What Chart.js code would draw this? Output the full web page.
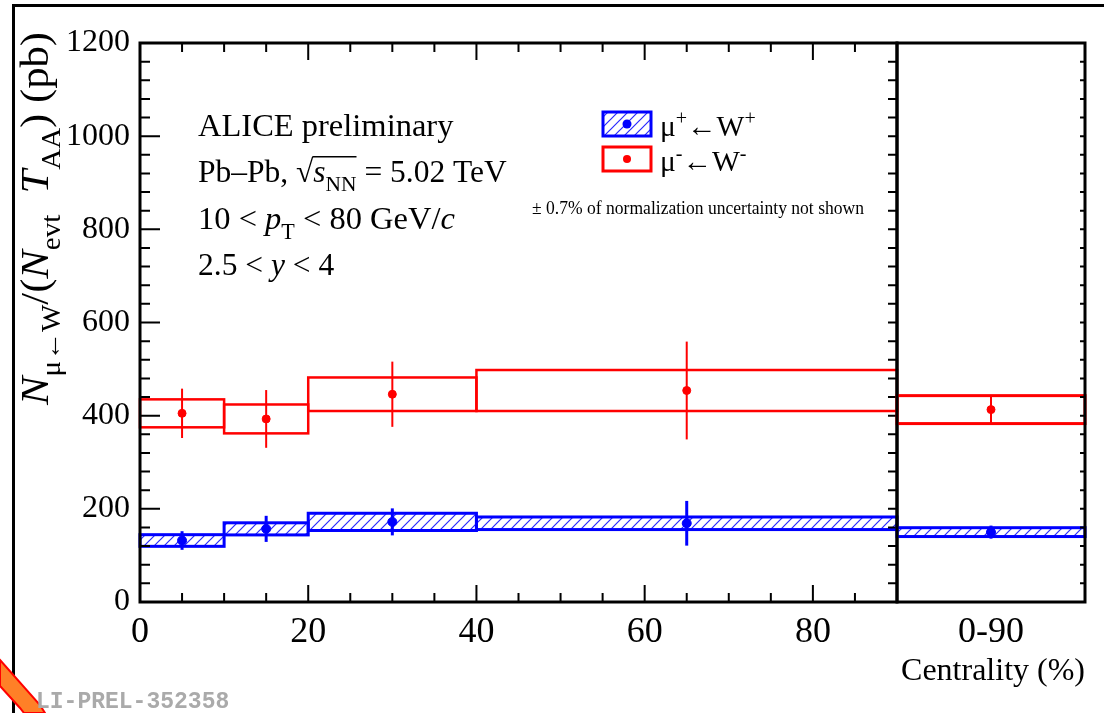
<!DOCTYPE html>
<html>
<head>
<meta charset="utf-8">
<script src="https://cdn.jsdelivr.net/npm/chart.js@4.4.1/dist/chart.umd.min.js"></script>
<style>
  body { margin: 0; background: #fff; }
  #wrap { position: relative; width: 1104px; height: 713px; overflow: hidden; }
  #wrap canvas { position: absolute; left: 0; top: 0; }
  #frame { position: absolute; left: 12px; top: 4px; width: 1200px; height: 800px;
           border-left: 3px solid #000; border-top: 3px solid #000; }
</style>
</head>
<body>
<div id="wrap">
  <div id="frame"></div>
  <canvas id="main" width="1104" height="713"></canvas>
  <canvas id="side" width="1104" height="713"></canvas>
</div>
<script>
'use strict';
// centrality bins (%)
let binLow = [0, 10, 20, 40];
let binHigh = [10, 20, 40, 90];
let binMid = [5, 15, 30, 65];

// mu+ <- W+
let plusVal = [132, 157, 172, 169];
let plusStat = [20, 28, 29, 48];
let plusSyst = [12.5, 13, 18.5, 13.5];

// mu- <- W-
let minusVal = [405, 393, 446, 454];
let minusStat = [53, 62, 70, 105];
let minusSyst = [30, 31, 36, 44];

// integrated 0-90
let intLow = [0];
let intHigh = [90];
let intMid = [45];
let intPlusVal = [150];
let intPlusStat = [14];
let intPlusSyst = [9.5];
let intMinusVal = [413];
let intMinusStat = [29];
let intMinusSyst = [30];

let yMin = 0, yMax = 1200, yStep = 40, yMajor = 200;
let xMin = 0, xMax = 90, xStep = 5, xMajor = 20;

const SERIF = '"Liberation Serif", "Times New Roman", serif';
const BLUE = '#0000ff';
const RED = '#ff0000';

// hatch tile for the mu+ boxes
let pc = document.createElement('canvas');
pc.width = 10; pc.height = 10;
let g = pc.getContext('2d');
g.strokeStyle = '#2a2aff';
g.lineWidth = 1.2;
g.beginPath();
g.moveTo(0, 10); g.lineTo(10, 0);
g.moveTo(-1, 1); g.lineTo(1, -1);
g.moveTo(9, 11); g.lineTo(11, 9);
g.stroke();

function richText(ctx, x, y, parts, size, draw) {
    let cx = x;
    let barStart = null, barEnd = null;
    for (let p of parts) {
        let s = (p.sub || p.sup) ? size * 0.68 : size;
        ctx.font = (p.i ? 'italic ' : '') + s + 'px ' + SERIF;
        let dy = p.sub ? size * 0.3 : (p.sup ? -size * 0.38 : 0);
        let w = ctx.measureText(p.t).width;
        if (draw) ctx.fillText(p.t, cx, y + dy);
        if (p.bar) {
            if (barStart === null) barStart = cx;
            barEnd = cx + w;
        }
        cx += w;
    }
    if (draw && barStart !== null) {
        ctx.save();
        ctx.lineWidth = 1.5;
        ctx.beginPath();
        ctx.moveTo(barStart - 1, y - size * 0.8);
        ctx.lineTo(barEnd, y - size * 0.8);
        ctx.stroke();
        ctx.restore();
    }
    return cx - x;
}

function makeBoxPlugin(sets) {
    return {
        id: 'boxes',
        beforeDatasetsDraw(chart) {
            let ctx = chart.ctx;
            let xs = chart.scales.x;
            let ys = chart.scales.y;
            let pat = ctx.createPattern(pc, 'repeat');
            for (let s of sets) {
                for (let i = 0; i < s.val.length; i++) {
                    let x0 = xs.getPixelForValue(s.lo[i]);
                    let x1 = xs.getPixelForValue(s.hi[i]);
                    let yt = ys.getPixelForValue(s.val[i] + s.syst[i]);
                    let yb = ys.getPixelForValue(s.val[i] - s.syst[i]);
                    ctx.save();
                    if (s.hatch) {
                        ctx.fillStyle = pat;
                        ctx.fillRect(x0, yt, x1 - x0, yb - yt);
                    }
                    ctx.strokeStyle = s.color;
                    ctx.lineWidth = s.boxWidth;
                    ctx.strokeRect(x0, yt, x1 - x0, yb - yt);
                    let xm = xs.getPixelForValue(s.mid[i]);
                    ctx.lineWidth = s.barWidth;
                    ctx.beginPath();
                    ctx.moveTo(xm, ys.getPixelForValue(s.val[i] - s.stat[i]));
                    ctx.lineTo(xm, ys.getPixelForValue(s.val[i] + s.stat[i]));
                    ctx.stroke();
                    ctx.restore();
                }
            }
        }
    };
}

let mainDecor = {
    id: 'mainDecor',
    afterDraw(chart) {
        let ctx = chart.ctx;
        let a = chart.chartArea;
        let xs = chart.scales.x;
        let ys = chart.scales.y;
        ctx.save();
        ctx.strokeStyle = '#000';
        ctx.lineWidth = 2;
        ctx.beginPath();
        for (let v = yMin; v <= yMax; v += yStep) {
            let y = ys.getPixelForValue(v);
            let len = v % yMajor === 0 ? 20 : 10;
            ctx.moveTo(a.left, y); ctx.lineTo(a.left + len, y);
            ctx.moveTo(a.right, y); ctx.lineTo(a.right - 9, y);
        }
        for (let v = xMin; v <= xMax; v += xStep) {
            let x = xs.getPixelForValue(v);
            let len = v % xMajor === 0 ? 17 : 9;
            ctx.moveTo(x, a.bottom); ctx.lineTo(x, a.bottom - len);
            ctx.moveTo(x, a.top); ctx.lineTo(x, a.top + len);
        }
        ctx.stroke();
        ctx.lineWidth = 3;
        ctx.strokeRect(a.left, a.top, a.right - a.left, a.bottom - a.top);

        // y axis title
        ctx.fillStyle = '#000';
        ctx.textBaseline = 'alphabetic';
        ctx.textAlign = 'left';
        let titleParts = [
            {t: 'N', i: 1}, {t: 'μ←W', sub: 1}, {t: '/('}, {t: 'N', i: 1}, {t: 'evt', sub: 1},
            {t: '  '}, {t: 'T', i: 1}, {t: 'AA', sub: 1}, {t: ') (pb)'}
        ];
        let tw = richText(ctx, 0, 0, titleParts, 40, false);
        ctx.save();
        ctx.translate(48, 405);
        ctx.rotate(-Math.PI / 2);
        ctx.scale(373 / tw, 1);
        richText(ctx, 0, 0, titleParts, 40, true);
        ctx.restore();

        // annotations
        richText(ctx, 198, 136, [{t: 'ALICE preliminary'}], 32.5, true);
        richText(ctx, 198, 182, [{t: 'Pb–Pb, '}, {t: '√'}, {t: 's', i: 1, bar: 1}, {t: 'NN', sub: 1, bar: 1}, {t: ' = 5.02 TeV'}], 31.5, true);
        richText(ctx, 198, 229, [{t: '10 < '}, {t: 'p', i: 1}, {t: 'T', sub: 1}, {t: ' < 80 GeV/'}, {t: 'c', i: 1}], 32.5, true);
        richText(ctx, 198, 275, [{t: '2.5 < '}, {t: 'y', i: 1}, {t: ' < 4'}], 31.5, true);

        ctx.font = '18px ' + SERIF;
        ctx.textAlign = 'center';
        ctx.fillText('± 0.7% of normalization uncertainty not shown', 698, 214, 332);
        ctx.textAlign = 'left';

        // legend
        ctx.fillStyle = ctx.createPattern(pc, 'repeat');
        ctx.fillRect(603, 112, 48, 24);
        ctx.lineWidth = 3;
        ctx.strokeStyle = BLUE;
        ctx.strokeRect(603, 112, 48, 24);
        ctx.fillStyle = BLUE;
        ctx.beginPath(); ctx.arc(627, 124, 4.5, 0, Math.PI * 2); ctx.fill();
        ctx.strokeStyle = RED;
        ctx.strokeRect(603, 147, 48, 24);
        ctx.fillStyle = RED;
        ctx.beginPath(); ctx.arc(627, 159, 4, 0, Math.PI * 2); ctx.fill();
        ctx.fillStyle = '#000';
        richText(ctx, 660, 136, [{t: 'μ'}, {t: '+', sup: 1}, {t: '←W'}, {t: '+', sup: 1}], 29.5, true);
        richText(ctx, 660, 171, [{t: 'μ'}, {t: '-', sup: 1}, {t: '←W'}, {t: '-', sup: 1}], 29.5, true);

        // logo corner + preliminary id
        ctx.fillStyle = '#ff8027';
        ctx.strokeStyle = RED;
        ctx.lineWidth = 2;
        ctx.beginPath();
        ctx.moveTo(0, 660); ctx.lineTo(40, 705); ctx.lineTo(45, 713);
        ctx.lineTo(24, 713); ctx.lineTo(20, 708); ctx.lineTo(0, 686);
        ctx.closePath();
        ctx.fill(); ctx.stroke();
        ctx.fillStyle = '#aaaaaa';
        ctx.font = 'bold 23px "Liberation Mono", monospace';
        ctx.fillText('LI-PREL-352358', 36, 708);
        ctx.restore();
    }
};

let sideDecor = {
    id: 'sideDecor',
    afterDraw(chart) {
        let ctx = chart.ctx;
        let a = chart.chartArea;
        let ys = chart.scales.y;
        ctx.save();
        ctx.strokeStyle = '#000';
        ctx.lineWidth = 2;
        ctx.beginPath();
        for (let v = yMin; v <= yMax; v += yStep) {
            let y = ys.getPixelForValue(v);
            ctx.moveTo(a.right, y); ctx.lineTo(a.right - 5, y);
        }
        ctx.stroke();
        ctx.lineWidth = 3;
        ctx.strokeRect(a.left, a.top, a.right - a.left, a.bottom - a.top);
        ctx.restore();
    }
};

function pts(xv, yv) {
    return xv.map((x, i) => ({x: x, y: yv[i]}));
}

let mainChart = new Chart(document.getElementById('main').getContext('2d'), {
    type: 'scatter',
    data: {
        datasets: [{
            label: 'μ+←W+',
            data: pts(binMid, plusVal),
            backgroundColor: BLUE,
            borderColor: BLUE,
            pointRadius: 4.5
        }, {
            label: 'μ-←W-',
            data: pts(binMid, minusVal),
            backgroundColor: RED,
            borderColor: RED,
            pointRadius: 4
        }]
    },
    options: {
        responsive: false,
        animation: false,
        events: [],
        layout: { padding: { top: 43, right: 207, left: 0, bottom: 0 } },
        plugins: { legend: { display: false }, tooltip: { enabled: false } },
        scales: {
            x: {
                type: 'linear', min: xMin, max: xMax,
                grid: { display: false, drawTicks: false },
                border: { display: false },
                ticks: {
                    stepSize: xStep, autoSkip: false, maxRotation: 0, padding: 9,
                    color: '#000', font: { family: SERIF, size: 36 },
                    callback: v => (v % xMajor === 0 ? v : '')
                },
                afterFit: s => { s.height = 111; }
            },
            y: {
                min: yMin, max: yMax,
                grid: { display: false, drawTicks: false },
                border: { display: false },
                ticks: {
                    stepSize: yStep, autoSkip: false, padding: 10,
                    color: '#000', font: { family: SERIF, size: 32 },
                    callback: v => (v % yMajor === 0 ? v : '')
                },
                afterFit: s => { s.width = 140; }
            }
        }
    },
    plugins: [makeBoxPlugin([
        {lo: binLow, hi: binHigh, mid: binMid, val: minusVal, stat: minusStat, syst: minusSyst, color: RED, boxWidth: 2.5, barWidth: 2, hatch: false},
        {lo: binLow, hi: binHigh, mid: binMid, val: plusVal, stat: plusStat, syst: plusSyst, color: BLUE, boxWidth: 3, barWidth: 3, hatch: true}
    ]), mainDecor]
});

let sideChart = new Chart(document.getElementById('side').getContext('2d'), {
    type: 'scatter',
    data: {
        datasets: [{
            label: 'μ+←W+',
            data: pts(intMid, intPlusVal),
            backgroundColor: BLUE,
            borderColor: BLUE,
            pointRadius: 4.5
        }, {
            label: 'μ-←W-',
            data: pts(intMid, intMinusVal),
            backgroundColor: RED,
            borderColor: RED,
            pointRadius: 4
        }]
    },
    options: {
        responsive: false,
        animation: false,
        events: [],
        layout: { padding: { top: 43, right: 19, left: 897, bottom: 0 } },
        plugins: { legend: { display: false }, tooltip: { enabled: false } },
        scales: {
            x: {
                type: 'linear', min: 0, max: 90,
                grid: { display: false, drawTicks: false },
                border: { display: false },
                ticks: {
                    stepSize: 45, autoSkip: false, maxRotation: 0, padding: 9,
                    color: '#000', font: { family: SERIF, size: 36 },
                    callback: v => (v === 45 ? '0-90' : '')
                },
                title: {
                    display: true, text: 'Centrality (%)', align: 'end',
                    color: '#000', font: { family: SERIF, size: 32 },
                    padding: { top: 0, bottom: 22 }
                },
                afterFit: s => { s.height = 111; }
            },
            y: { display: false, min: yMin, max: yMax }
        }
    },
    plugins: [makeBoxPlugin([
        {lo: intLow, hi: intHigh, mid: intMid, val: intMinusVal, stat: intMinusStat, syst: intMinusSyst, color: RED, boxWidth: 3, barWidth: 2, hatch: false},
        {lo: intLow, hi: intHigh, mid: intMid, val: intPlusVal, stat: intPlusStat, syst: intPlusSyst, color: BLUE, boxWidth: 3, barWidth: 3, hatch: true}
    ]), sideDecor]
});
</script>
</body>
</html>
